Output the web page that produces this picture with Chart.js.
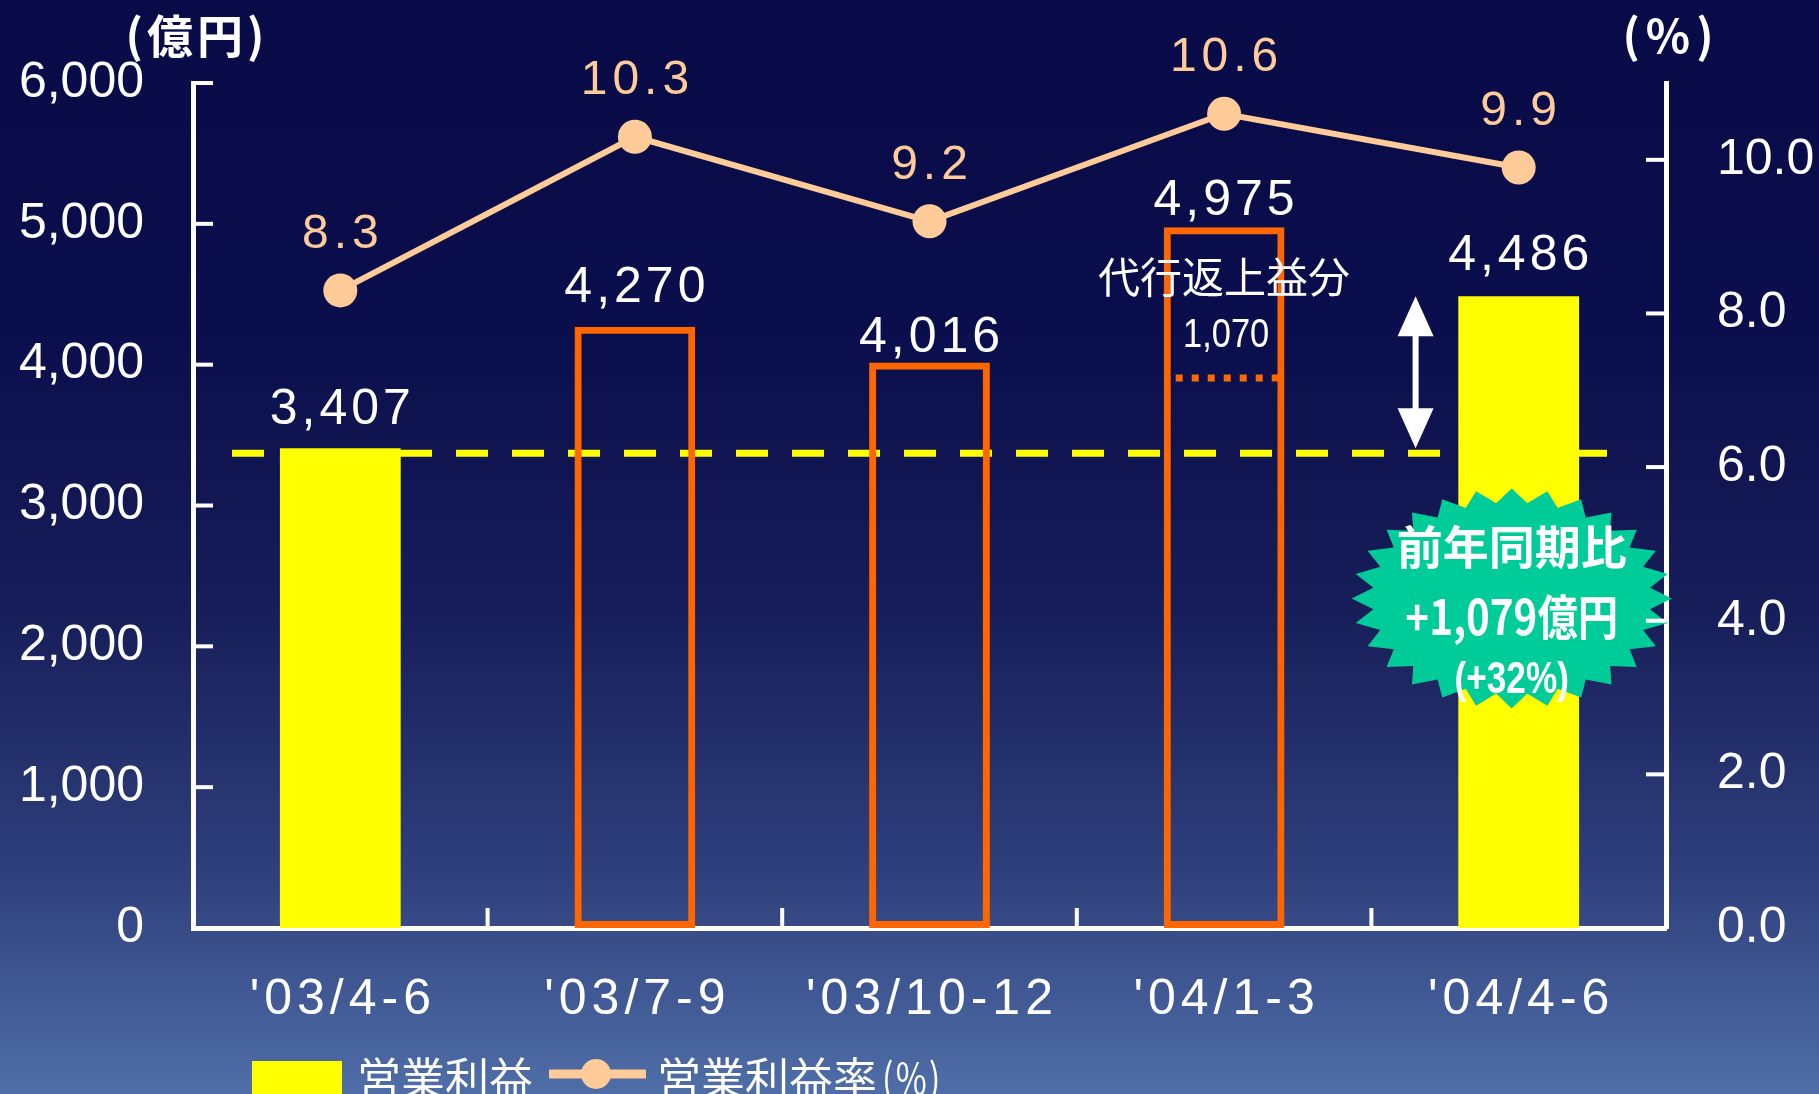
<!DOCTYPE html>
<html>
<head>
<meta charset="utf-8">
<script src="https://cdn.jsdelivr.net/npm/chart.js@4.4.1/dist/chart.umd.min.js"></script>
<style>
  html, body { margin: 0; padding: 0; overflow: hidden; background: #0a0c4a; }
  #wrap { width: 1819px; height: 1094px; position: relative; }
</style>
</head>
<body>
<div id="wrap"><canvas id="chart"></canvas></div>
<script>
'use strict';

// Data
const categories = ["'03/4-6", "'03/7-9", "'03/10-12", "'04/1-3", "'04/4-6"];
const operatingProfit = [3407, 4270, 4016, 4975, 4486];   // 億円
const profitMargin = [8.3, 10.3, 9.2, 10.6, 9.9];         // %
const profitTicks = [0, 1000, 2000, 3000, 4000, 5000, 6000];
const marginTicks = [0, 2, 4, 6, 8, 10];
const pensionGain = 1070;        // 代行返上益分
const yoyGain = 1079;            // 前年同期比
const yoyPct = 32;

// Styles
const YELLOW = '#ffff00';
const ORANGE = '#ff6600';
const PEACH = '#ffcc99';
const GREEN = '#00cc99';
const NUM_FONT = '"Liberation Sans", Arial, sans-serif';
const JP_FONT = '"Noto Sans CJK JP", "Noto Sans", sans-serif';
const barFill = [YELLOW, 'rgba(0,0,0,0)', 'rgba(0,0,0,0)', 'rgba(0,0,0,0)', YELLOW];
const barBorder = [0, 7, 7, 7, 0];
const labelLift = [38, 38, 24, 26, 40];   // px above each bar top

function text(ctx, str, x, y, font, color, opts = {}) {
  ctx.save();
  ctx.font = font;
  ctx.fillStyle = color;
  ctx.textAlign = opts.align || 'center';
  ctx.textBaseline = 'middle';
  const sp = opts.spacing || 0;
  ctx.letterSpacing = sp + 'px';
  const dx = (ctx.textAlign === 'center') ? sp / 2 : 0;
  ctx.translate(x + dx, y);
  if (opts.squeeze) ctx.scale(opts.squeeze, 1);
  ctx.fillText(str, 0, 0);
  ctx.restore();
}

function line(ctx, x1, y1, x2, y2, color, w) {
  ctx.beginPath();
  ctx.moveTo(x1, y1);
  ctx.lineTo(x2, y2);
  ctx.strokeStyle = color;
  ctx.lineWidth = w;
  ctx.stroke();
}

const backgroundPlugin = {
  id: 'background',
  beforeDraw(chart) {
    const { ctx, width, height } = chart;
    const g = ctx.createLinearGradient(0, 0, 0, height);
    g.addColorStop(0, '#090b48');
    g.addColorStop(0.3, '#0b0e4c');
    g.addColorStop(0.55, '#161d58');
    g.addColorStop(0.8, '#2f407c');
    g.addColorStop(1, '#4f6ea8');
    ctx.save();
    ctx.fillStyle = g;
    ctx.fillRect(0, 0, width, height);
    ctx.restore();
  }
};

// dashed reference line at last year's level
const referencePlugin = {
  id: 'reference',
  beforeDatasetsDraw(chart) {
    const { ctx, chartArea, scales } = chart;
    const y = scales.y.getPixelForValue(operatingProfit[0]) + 5;
    ctx.save();
    ctx.setLineDash([32, 24]);
    line(ctx, chartArea.left + 39, y, chartArea.right - 59, y, YELLOW, 7);
    ctx.restore();
  }
};

const labelsPlugin = {
  id: 'labels',
  afterDatasetsDraw(chart) {
    const { ctx, scales } = chart;
    const bars = chart.getDatasetMeta(0).data;
    const pts = chart.getDatasetMeta(1).data;
    const ys = scales.y, xs = scales.x;

    // pension gain part of '04/1-3
    const b4 = bars[3];
    const dotY = ys.getPixelForValue(operatingProfit[3] - pensionGain);
    ctx.save();
    ctx.setLineDash([7, 9]);
    line(ctx, b4.x - b4.width / 2 + 12, dotY, b4.x + b4.width / 2 - 6, dotY, ORANGE, 7);
    ctx.restore();
    text(ctx, '代行返上益分', b4.x, b4.y + 50, '42px ' + JP_FONT, '#ffffff');
    text(ctx, pensionGain.toLocaleString('en-US'), b4.x + 2, b4.y + 108, '41px ' + NUM_FONT, '#ffffff', { squeeze: 0.84 });

    // bar values
    bars.forEach((b, i) => {
      text(ctx, operatingProfit[i].toLocaleString('en-US'), b.x, b.y - labelLift[i], '50px ' + NUM_FONT, '#ffffff', { spacing: 4 });
    });

    // margin values
    pts.forEach((p, i) => {
      text(ctx, profitMargin[i].toFixed(1), p.x, p.y - 56, '48px ' + NUM_FONT, PEACH, { spacing: 5 });
    });

    // double arrow between the two April-June quarters
    const xa = xs.getPixelForTick(4) - 0.35 * (xs.getPixelForTick(4) - xs.getPixelForTick(3));
    const yTop = ys.getPixelForValue(operatingProfit[4]);
    const yBot = ys.getPixelForValue(operatingProfit[0]);
    const hw = 18, hl = 40;
    line(ctx, xa, yTop + hl - 2, xa, yBot - hl + 2, '#ffffff', 6);
    ctx.save();
    ctx.fillStyle = '#ffffff';
    ctx.beginPath();
    ctx.moveTo(xa, yTop); ctx.lineTo(xa + hw, yTop + hl); ctx.lineTo(xa - hw, yTop + hl); ctx.closePath();
    ctx.moveTo(xa, yBot); ctx.lineTo(xa + hw, yBot - hl); ctx.lineTo(xa - hw, yBot - hl); ctx.closePath();
    ctx.fill();
    ctx.restore();

    // starburst
    const cx = bars[4].x - 7;
    const cy = ys.getPixelForValue(2340);
    const rx = 160, ry = 110, spikes = 28, inner = 0.87;
    ctx.save();
    ctx.beginPath();
    for (let k = 0; k < spikes * 2; k++) {
      const a = (Math.PI * k) / spikes - Math.PI / 2;
      const r = (k % 2 === 0) ? 1 : inner;
      const px = cx + Math.cos(a) * rx * r;
      const py = cy + Math.sin(a) * ry * r;
      if (k === 0) ctx.moveTo(px, py); else ctx.lineTo(px, py);
    }
    ctx.closePath();
    ctx.fillStyle = GREEN;
    ctx.fill();
    ctx.restore();
    text(ctx, '前年同期比', cx, cy - 52, 'bold 46px ' + JP_FONT, '#ffffff');
    text(ctx, '+' + yoyGain.toLocaleString('en-US') + '億円', cx, cy + 18, 'bold 48px ' + JP_FONT, '#ffffff', { squeeze: 0.84 });
    text(ctx, '(+' + yoyPct + '%)', cx, cy + 82, 'bold 44px ' + NUM_FONT, '#ffffff', { squeeze: 0.8 });
  }
};

const axesPlugin = {
  id: 'axesDeco',
  afterDraw(chart) {
    const { ctx, scales, chartArea } = chart;
    const ys = scales.y, y1 = scales.y1, xs = scales.x;
    const tl = 20;
    ctx.save();
    ctx.lineCap = 'butt';
    ys.ticks.forEach(t => {
      const py = ys.getPixelForValue(t.value);
      line(ctx, chartArea.left, py, chartArea.left + tl, py, '#ffffff', 4);
    });
    y1.ticks.forEach(t => {
      const py = y1.getPixelForValue(t.value);
      line(ctx, chartArea.right - tl, py, chartArea.right, py, '#ffffff', 4);
    });
    for (let i = 1; i < categories.length; i++) {
      const px = (xs.getPixelForTick(i - 1) + xs.getPixelForTick(i)) / 2;
      line(ctx, px, chartArea.bottom, px, chartArea.bottom - tl, '#ffffff', 4);
    }
    ctx.restore();

    // category labels
    categories.forEach((c, i) => {
      text(ctx, c, xs.getPixelForTick(i), chartArea.bottom + 72, '50px ' + NUM_FONT, '#ffffff', { spacing: 5 });
    });

    // unit titles
    text(ctx, '(億円)', chartArea.left + 2, chartArea.top - 47, 'bold 46px ' + JP_FONT, '#ffffff', { spacing: 4 });
    text(ctx, '(%)', chartArea.right + 2, chartArea.top - 47, 'bold 46px ' + JP_FONT, '#ffffff', { spacing: 6 });

    // legend
    const ly = 1078;
    ctx.save();
    ctx.fillStyle = YELLOW;
    ctx.fillRect(252, ly - 17, 90, 34);
    ctx.restore();
    text(ctx, '営業利益', 357, ly, '44px ' + JP_FONT, '#ffffff', { align: 'left' });
    line(ctx, 549, ly - 4, 646, ly - 4, PEACH, 9);
    ctx.save();
    ctx.fillStyle = PEACH;
    ctx.beginPath();
    ctx.arc(596, ly - 4, 15, 0, Math.PI * 2);
    ctx.fill();
    ctx.restore();
    text(ctx, '営業利益率', 657, ly, '44px ' + JP_FONT, '#ffffff', { align: 'left' });
    text(ctx, '(%)', 882, ly, '42px ' + JP_FONT, '#ffffff', { align: 'left', squeeze: 0.8, spacing: 3 });
  }
};

const ctx = document.getElementById('chart').getContext('2d');
new Chart(ctx, {
  data: {
    labels: categories,
    datasets: [
      {
        type: 'bar',
        label: '営業利益',
        data: operatingProfit,
        yAxisID: 'y',
        backgroundColor: barFill,
        borderColor: ORANGE,
        borderWidth: barBorder,
        borderSkipped: false,
        barPercentage: 0.41,
        categoryPercentage: 1,
        order: 2
      },
      {
        type: 'line',
        label: '営業利益率(%)',
        data: profitMargin,
        yAxisID: 'y1',
        borderColor: PEACH,
        borderWidth: 6,
        pointRadius: 17,
        pointBackgroundColor: PEACH,
        pointBorderWidth: 0,
        tension: 0,
        order: 1
      }
    ]
  },
  options: {
    responsive: true,
    maintainAspectRatio: false,
    animation: false,
    devicePixelRatio: 1,
    layout: { padding: { top: 83, left: 0, right: 0, bottom: 0 } },
    plugins: {
      legend: { display: false },
      tooltip: { enabled: false }
    },
    scales: {
      x: {
        offset: true,
        grid: { display: false, drawTicks: false },
        border: { display: true, color: '#ffffff', width: 5 },
        ticks: { display: false },
        afterFit: (s) => { s.height = 166; }
      },
      y: {
        position: 'left',
        min: 0,
        max: 6000,
        afterBuildTicks: (s) => { s.ticks = profitTicks.map(v => ({ value: v })); },
        grid: { display: false, drawTicks: false },
        border: { display: true, color: '#ffffff', width: 5 },
        ticks: {
          color: '#ffffff',
          font: { family: NUM_FONT, size: 50 },
          padding: 49,
          callback: (v) => v.toLocaleString('en-US')
        },
        afterFit: (s) => { s.width = 193; }
      },
      y1: {
        position: 'right',
        min: 0,
        max: 11,
        afterBuildTicks: (s) => { s.ticks = marginTicks.map(v => ({ value: v })); },
        grid: { display: false, drawTicks: false },
        border: { display: true, color: '#ffffff', width: 5 },
        ticks: {
          color: '#ffffff',
          font: { family: NUM_FONT, size: 50 },
          padding: 51,
          callback: (v) => Number(v).toFixed(1)
        },
        afterFit: (s) => { s.width = 153; }
      }
    }
  },
  plugins: [backgroundPlugin, referencePlugin, labelsPlugin, axesPlugin]
});
</script>
</body>
</html>
